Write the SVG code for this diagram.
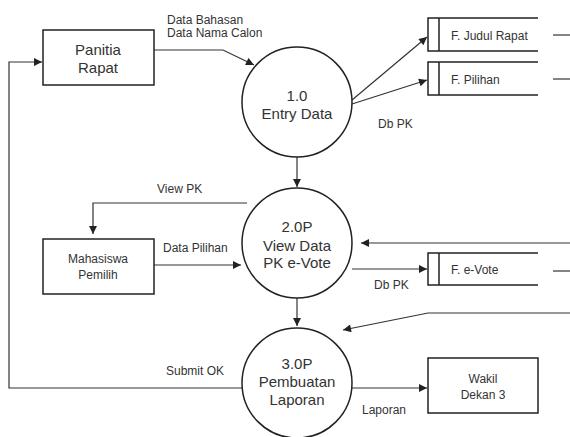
<svg xmlns="http://www.w3.org/2000/svg" width="570" height="437" viewBox="0 0 570 437">
<defs>
<marker id="ah" viewBox="0 0 10 10" refX="10" refY="5" markerWidth="9" markerHeight="8" markerUnits="userSpaceOnUse" orient="auto">
<path d="M0,0 L10,5 L0,10 z" fill="#222"/>
</marker>
</defs>
<style>
text{font-family:"Liberation Sans",Arial,sans-serif;fill:#333}
.c{text-anchor:middle}
.big{font-size:15px}
.mid{font-size:14px}
.sm{font-size:12px}
.box{fill:#fff;stroke:#222;stroke-width:1.5}
.ln{fill:none;stroke:#333;stroke-width:1.2}
.arr{fill:none;stroke:#333;stroke-width:1.2;marker-end:url(#ah)}
</style>
<rect width="570" height="437" fill="#fff"/>

<g id="connectors">
<polyline class="arr" points="154,50 223,50 254,65"/>
<polyline class="arr" points="242,388 9,388 9,62 42,62"/>
<line class="arr" x1="352" y1="100" x2="427" y2="37"/>
<line class="arr" x1="352" y1="104" x2="427" y2="80"/>
<line class="arr" x1="297" y1="157" x2="297" y2="187"/>
<polyline class="arr" points="247,203 93,203 93,234"/>
<line class="arr" x1="154" y1="265" x2="241" y2="265"/>
<line class="arr" x1="570" y1="243" x2="361" y2="243"/>
<line class="arr" x1="352" y1="269" x2="427" y2="269"/>
<line class="arr" x1="297" y1="298" x2="297" y2="326"/>
<polyline class="arr" points="570,313 428,313 343,330"/>
<line class="arr" x1="352" y1="388" x2="427" y2="388"/>
<line class="ln" x1="553" y1="35" x2="570" y2="35"/>
<line class="ln" x1="553" y1="79" x2="570" y2="79"/>
<line class="ln" x1="553" y1="271" x2="570" y2="271"/>
<text class="sm" x="167" y="24">Data Bahasan</text>
<text class="sm" x="167" y="37">Data Nama Calon</text>
<text class="sm" x="378" y="128">Db PK</text>
<text class="sm" x="157" y="193">View PK</text>
<text class="sm" x="163" y="252">Data Pilihan</text>
<text class="sm" x="374" y="289">Db PK</text>
<text class="sm" x="166" y="375">Submit OK</text>
<text class="sm" x="362" y="414">Laporan</text>
</g>

<g id="panitia-rapat">
<rect class="box" x="43" y="30" width="111" height="55"/>
<text class="big c" x="98" y="55">Panitia</text>
<text class="big c" x="98" y="73">Rapat</text>
</g>

<g id="mahasiswa-pemilih">
<rect class="box" x="43" y="239" width="111" height="55"/>
<text class="sm c" x="98" y="263">Mahasiswa</text>
<text class="sm c" x="98" y="279">Pemilih</text>
</g>

<g id="wakil-dekan">
<rect class="box" x="428" y="358" width="110" height="55"/>
<text class="sm c" x="483" y="383">Wakil</text>
<text class="sm c" x="483" y="399">Dekan 3</text>
</g>

<g id="p1">
<circle class="box" cx="297" cy="102" r="55"/>
<text class="big c" x="297" y="101">1.0</text>
<text class="big c" x="297" y="119">Entry Data</text>
</g>

<g id="p2">
<circle class="box" cx="297" cy="243" r="55"/>
<text class="big c" x="297" y="232">2.0P</text>
<text class="big c" x="297" y="251">View Data</text>
<text class="big c" x="297" y="268">PK e-Vote</text>
</g>

<g id="p3">
<circle class="box" cx="297" cy="383" r="55"/>
<text class="big c" x="297" y="369">3.0P</text>
<text class="big c" x="297" y="387">Pembuatan</text>
<text class="big c" x="297" y="405">Laporan</text>
</g>

<g id="f-judul-rapat">
<path class="box" d="M538,18 H428 V51 H538 M439,18 V51"/>
<text class="sm" x="451" y="40">F. Judul Rapat</text>
</g>

<g id="f-pilihan">
<path class="box" d="M538,62 H428 V95 H538 M439,62 V95"/>
<text class="sm" x="451" y="84">F. Pilihan</text>
</g>

<g id="f-evote">
<path class="box" d="M538,253 H428 V285 H538 M439,253 V285"/>
<text class="sm" x="451" y="274">F. e-Vote</text>
</g>
</svg>
